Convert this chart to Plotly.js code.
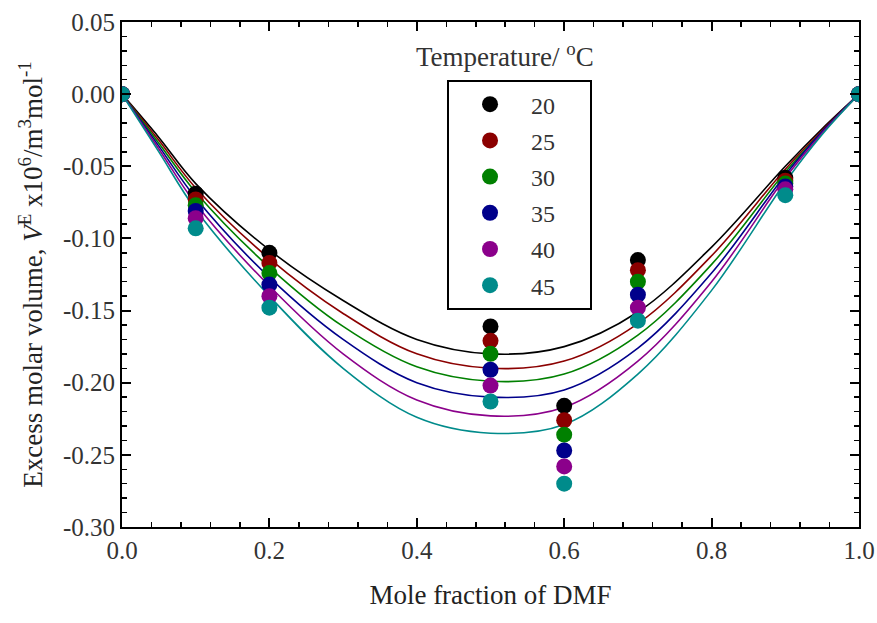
<!DOCTYPE html>
<html>
<head>
<meta charset="utf-8">
<script src="https://cdn.plot.ly/plotly-3.0.1.min.js"></script>
<style>html,body{margin:0;padding:0;background:#fff;}#chart{width:877px;height:623px;}</style>
</head>
<body>
<div id="chart"></div>
<script>
// Temperatures (°C)
var temps = ['20', '25', '30', '35', '40', '45'];
var colors = ['#000000', '#8b0000', '#008000', '#00008b', '#8b008b', '#008b8b'];

// Experimental points: mole fraction of DMF
var xPts = [0, 0.1, 0.2, 0.5, 0.6, 0.7, 0.9, 1.0];
var vE20 = [0, -0.069, -0.110, -0.161, -0.216, -0.115, -0.058, 0];
var vE25 = [0, -0.073, -0.117, -0.171, -0.226, -0.122, -0.060, 0];
var vE30 = [0, -0.077, -0.124, -0.180, -0.236, -0.130, -0.062, 0];
var vE35 = [0, -0.081, -0.132, -0.191, -0.247, -0.139, -0.064, 0];
var vE40 = [0, -0.086, -0.140, -0.202, -0.258, -0.148, -0.066, 0];
var vE45 = [0, -0.093, -0.148, -0.213, -0.270, -0.157, -0.070, 0];

// Fitted curves
var xFit = [0, 0.05, 0.1, 0.2, 0.3, 0.4, 0.5, 0.6, 0.7, 0.8, 0.9, 0.95, 1.0];
var fit20 = [0, -0.030, -0.062, -0.108, -0.143, -0.170, -0.180, -0.175, -0.151, -0.106, -0.050, -0.024, 0];
var fit25 = [0, -0.032, -0.065, -0.114, -0.152, -0.180, -0.190, -0.185, -0.159, -0.112, -0.052, -0.025, 0];
var fit30 = [0, -0.034, -0.068, -0.120, -0.161, -0.189, -0.199, -0.194, -0.167, -0.118, -0.054, -0.026, 0];
var fit35 = [0, -0.036, -0.072, -0.127, -0.170, -0.200, -0.210, -0.205, -0.176, -0.124, -0.056, -0.026, 0];
var fit40 = [0, -0.038, -0.076, -0.133, -0.180, -0.212, -0.223, -0.217, -0.185, -0.130, -0.058, -0.027, 0];
var fit45 = [0, -0.040, -0.080, -0.140, -0.190, -0.224, -0.235, -0.229, -0.194, -0.136, -0.061, -0.028, 0];

// Y tick labels (hyphen minus as in the original)
var yTickVals = [0.05, 0.00, -0.05, -0.10, -0.15, -0.20, -0.25, -0.30];
var yTickText = ['0.05', '0.00', '-0.05', '-0.10', '-0.15', '-0.20', '-0.25', '-0.30'];

var pts = [vE20, vE25, vE30, vE35, vE40, vE45];
var fits = [fit20, fit25, fit30, fit35, fit40, fit45];

var pad = '\u00a0\u00a0\u00a0\u00a0\u00a0';
var traces = [];
for (var i = 0; i < temps.length; i++) {
  traces.push({
    x: xFit, y: fits[i], type: 'scatter', mode: 'lines',
    line: {color: colors[i], width: 1.6, shape: 'spline', smoothing: 1.0},
    showlegend: false, hoverinfo: 'skip'
  });
}
for (var j = 0; j < temps.length; j++) {
  traces.push({
    x: xPts, y: pts[j], type: 'scatter', mode: 'markers',
    name: temps[j] + pad, legendgroup: 'g' + j,
    marker: {color: colors[j], size: 16}
  });
}

var font = 'Liberation Serif, Times New Roman, serif';
var layout = {
  width: 877, height: 623,
  margin: {l: 122, r: 18, t: 22, b: 96},
  paper_bgcolor: '#fff', plot_bgcolor: '#fff',
  font: {family: font, size: 24, color: '#222'},
  showlegend: true,
  legend: {
    x: 0.441, y: 0.885, xanchor: 'left', yanchor: 'top',
    bgcolor: '#fff', bordercolor: '#000', borderwidth: 2,
    font: {family: font, size: 24, color: '#333'},
    tracegroupgap: 2, itemwidth: 72
  },
  xaxis: {
    range: [0, 1.0], dtick: 0.2, tickformat: '.1f',
    ticks: 'inside', ticklen: 9, tickwidth: 2, tickcolor: '#000',
    showline: true, linecolor: '#000', linewidth: 2, mirror: 'allticks',
    showgrid: false, zeroline: false,
    minor: {dtick: 0.04, ticks: 'inside', ticklen: 5, tickwidth: 1.5, tickcolor: '#000', showgrid: false},
    tickfont: {family: font, size: 25, color: '#333'},
    title: {text: 'Mole fraction of DMF', font: {family: font, size: 27, color: '#222'}, standoff: 22}
  },
  yaxis: {
    range: [-0.30, 0.05], tickmode: 'array', tickvals: yTickVals, ticktext: yTickText,
    ticks: 'inside', ticklen: 9, tickwidth: 2, tickcolor: '#000',
    showline: true, linecolor: '#000', linewidth: 2, mirror: 'allticks',
    showgrid: false, zeroline: false,
    minor: {dtick: 0.01, tick0: 0, ticks: 'inside', ticklen: 5, tickwidth: 1.5, tickcolor: '#000', showgrid: false},
    tickfont: {family: font, size: 25, color: '#333'},
    title: {text: 'Excess molar volume, <i>V</i><sup>E</sup> x10<sup>6</sup>/m<sup>3</sup>mol<sup>-1</sup>', font: {family: font, size: 27, color: '#222'}, standoff: 12}
  },
  annotations: [{
    xref: 'paper', yref: 'paper', x: 0.52, y: 0.935, xanchor: 'center', yanchor: 'middle',
    text: 'Temperature/ <sup>o</sup>C', showarrow: false,
    font: {family: font, size: 27, color: '#333'}
  }]
};

Plotly.newPlot('chart', traces, layout, {displayModeBar: false, staticPlot: true});
</script>
</body>
</html>
